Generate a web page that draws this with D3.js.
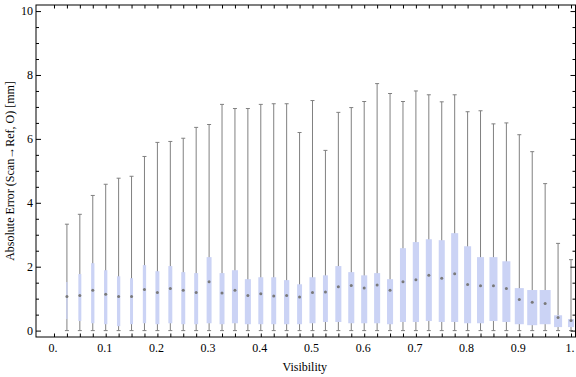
<html><head>
<title>Absolute error vs visibility</title>
<script src="https://d3js.org/d3.v7.min.js"></script>
<style>
  body { margin: 0; background: #fff; }
  svg text { font-family: "Liberation Serif", "DejaVu Serif", serif; }
</style>
</head>
<body>
<svg id="chart" width="576" height="377"></svg>

<script>
// bin centres (visibility)
const visibility = [0.025, 0.05, 0.075, 0.1, 0.125, 0.15, 0.175, 0.2, 0.225, 0.25,
  0.275, 0.3, 0.325, 0.35, 0.375, 0.4, 0.425, 0.45, 0.475, 0.5,
  0.525, 0.55, 0.575, 0.6, 0.625, 0.65, 0.675, 0.7, 0.725, 0.75,
  0.775, 0.8, 0.825, 0.85, 0.875, 0.9, 0.925, 0.95, 0.975, 1.0];

const whiskerLow = [0, 0, 0, 0, 0, 0, 0, 0, 0, 0,
  0, 0, 0, 0, 0, 0, 0, 0, 0, 0,
  0, 0, 0, 0, 0, 0, 0, 0, 0, 0,
  0, 0, 0, 0, 0, 0, 0, 0, 0, 0];
const q1 = [0.36, 0.30, 0.23, 0.20, 0.14, 0.20, 0.23, 0.20, 0.23, 0.20,
  0.20, 0.23, 0.20, 0.23, 0.20, 0.20, 0.20, 0.20, 0.20, 0.23,
  0.27, 0.27, 0.23, 0.23, 0.23, 0.20, 0.27, 0.27, 0.30, 0.27,
  0.27, 0.23, 0.23, 0.30, 0.27, 0.20, 0.17, 0.20, 0.11, 0.11];
const median = [1.07, 1.10, 1.26, 1.14, 1.07, 1.07, 1.29, 1.19, 1.32, 1.26,
  1.19, 1.53, 1.18, 1.26, 1.10, 1.15, 1.08, 1.10, 1.05, 1.19,
  1.21, 1.37, 1.41, 1.33, 1.43, 1.26, 1.53, 1.59, 1.73, 1.64,
  1.78, 1.44, 1.40, 1.40, 1.32, 0.97, 0.89, 0.85, 0.41, 0.32];
const q3 = [1.52, 1.77, 2.11, 1.89, 1.70, 1.64, 2.05, 1.86, 2.02, 1.83,
  1.80, 2.30, 1.80, 1.89, 1.61, 1.67, 1.67, 1.58, 1.45, 1.67,
  1.73, 2.02, 1.83, 1.73, 1.80, 1.61, 2.58, 2.77, 2.86, 2.83,
  3.05, 2.64, 2.30, 2.30, 2.17, 1.33, 1.27, 1.27, 0.48, 0.36];
const whiskerHigh = [3.33, 3.64, 4.23, 4.58, 4.77, 4.83, 5.45, 5.89, 5.92, 6.02,
  6.36, 6.45, 7.08, 6.95, 6.95, 7.08, 7.10, 7.10, 6.20, 7.20,
  5.64, 6.83, 6.98, 7.17, 7.73, 7.42, 7.17, 7.50, 7.38, 7.16,
  7.38, 6.85, 6.88, 6.47, 6.50, 6.13, 5.60, 4.60, 2.73, 2.22];
// relative box width (sample weight of each bin)
const weight = [0.12, 0.27, 0.30, 0.30, 0.30, 0.27, 0.30, 0.36, 0.36, 0.36,
  0.36, 0.45, 0.45, 0.55, 0.55, 0.45, 0.45, 0.48, 0.45, 0.55,
  0.45, 0.55, 0.55, 0.55, 0.55, 0.55, 0.55, 0.57, 0.55, 0.55,
  0.64, 0.64, 0.64, 0.73, 0.73, 0.82, 0.91, 1.00, 0.73, 0.55];

const xLabels = [0, 0.1, 0.2, 0.3, 0.4, 0.5, 0.6, 0.7, 0.8, 0.9, 1];
const yMajor = [0, 2, 4, 6, 8, 10];
const yMinor = [0.5, 1, 1.5, 2.5, 3, 3.5, 4.5, 5, 5.5, 6.5, 7, 7.5, 8.5, 9, 9.5];

const bins = visibility.map((v, i) => ({
  v: v, lo: whiskerLow[i], q1: q1[i], med: median[i], q3: q3[i], hi: whiskerHigh[i], w: weight[i]
}));

const frame = {left: 36, right: 575.5, top: 5, bottom: 337};

let x = d3.scaleLinear().domain([-0.0348, 1.0087]).range([frame.left, frame.right]);
let y = d3.scaleLinear().domain([-0.2, 10.19]).range([frame.bottom, frame.top]);
let wScale = d3.scaleLinear().domain([0, 1]).range([0, 11]);

let svg = d3.select("#chart");

// boxes
let g = svg.append("g");
g.selectAll("line.whisker")
  .data(bins).enter().append("line")
  .attr("x1", d => x(d.v)).attr("x2", d => x(d.v))
  .attr("y1", d => y(d.lo)).attr("y2", d => y(d.hi))
  .style("stroke", "#808080").style("stroke-width", 1);

["lo", "hi"].forEach(function(k) {
  g.selectAll("line.cap-" + k)
    .data(bins).enter().append("line")
    .attr("x1", d => x(d.v) - 2).attr("x2", d => x(d.v) + 2)
    .attr("y1", d => y(d[k])).attr("y2", d => y(d[k]))
    .style("stroke", "#808080").style("stroke-width", 1);
});

g.selectAll("rect")
  .data(bins).enter().append("rect")
  .attr("x", d => x(d.v) - wScale(d.w) / 2)
  .attr("width", d => wScale(d.w))
  .attr("y", d => y(d.q3))
  .attr("height", d => y(d.q1) - y(d.q3))
  .style("fill", "#cbd3f5");

g.selectAll("circle")
  .data(bins).enter().append("circle")
  .attr("cx", d => x(d.v)).attr("cy", d => y(d.med))
  .attr("r", 1.5)
  .style("fill", "#7a7a7a");

// frame
svg.append("rect")
  .attr("x", frame.left).attr("y", frame.top)
  .attr("width", frame.right - frame.left).attr("height", frame.bottom - frame.top)
  .style("fill", "none").style("stroke", "#000").style("stroke-width", 1);

function cleanAxis(sel) {
  sel.select(".domain").remove();
  sel.selectAll("line").style("stroke", "#000");
  sel.selectAll("text").style("font-size", "12px").style("font-family", '"Liberation Serif", serif').style("fill", "#000");
}

// x ticks (every bin + 0), bottom and top
let xTickVals = [0].concat(visibility);
svg.append("g").attr("transform", "translate(0," + frame.bottom + ")")
  .call(d3.axisBottom(x).tickValues(xTickVals).tickSize(-3.5).tickFormat(""))
  .call(cleanAxis);
svg.append("g").attr("transform", "translate(0," + frame.top + ")")
  .call(d3.axisTop(x).tickValues(xTickVals).tickSize(-3.5).tickFormat(""))
  .call(cleanAxis);

// x labels
svg.append("g").attr("transform", "translate(0," + frame.bottom + ")")
  .call(d3.axisBottom(x).tickValues(xLabels).tickSize(0).tickPadding(6)
    .tickFormat(d => d === 0 ? "0." : d === 1 ? "1." : d3.format(".1f")(d)))
  .call(cleanAxis)
  .call(s => s.selectAll("text").attr("dx", -1.5));

// y ticks left and right
svg.append("g").attr("transform", "translate(" + frame.left + ",0)")
  .call(d3.axisLeft(y).tickValues(yMajor).tickSizeInner(-5).tickSizeOuter(0).tickPadding(3).tickFormat(d3.format("d")))
  .call(cleanAxis);
svg.append("g").attr("transform", "translate(" + frame.left + ",0)")
  .call(d3.axisLeft(y).tickValues(yMinor).tickSize(-3).tickFormat(""))
  .call(cleanAxis);
svg.append("g").attr("transform", "translate(" + frame.right + ",0)")
  .call(d3.axisRight(y).tickValues(yMajor).tickSize(-5).tickFormat(""))
  .call(cleanAxis);
svg.append("g").attr("transform", "translate(" + frame.right + ",0)")
  .call(d3.axisRight(y).tickValues(yMinor).tickSize(-3).tickFormat(""))
  .call(cleanAxis);

// axis titles
svg.append("text")
  .attr("x", (frame.left + frame.right) / 2 - 1).attr("y", 371)
  .attr("text-anchor", "middle")
  .style("font-size", "12px")
  .text("Visibility");

svg.append("text")
  .attr("transform", "translate(14," + ((frame.top + frame.bottom) / 2) + ") rotate(-90)")
  .attr("text-anchor", "middle")
  .style("font-size", "12px")
  .text("Absolute Error (Scan\u2192Ref, O) [mm]");
</script>
</body>
</html>
